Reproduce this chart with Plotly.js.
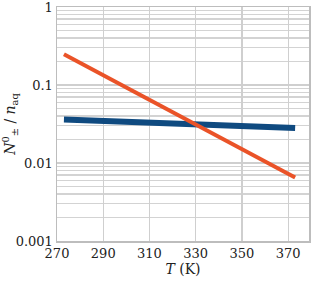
<!DOCTYPE html>
<html><head><meta charset="utf-8">
<script src="https://cdn.plot.ly/plotly-3.0.1.min.js"></script>
<style>html,body{margin:0;padding:0;background:#fff}#c{width:312px;height:282px}</style>
</head><body><div id="c"></div>
<script>
const T = [273, 373];
const orangeVals = [0.248, 0.0065];
const blueVals = [0.036, 0.028];
const xTicks = [270, 290, 310, 330, 350, 370];
const yMajor = [0.001, 0.01, 0.1, 1];
const yMajorLabels = ['0.001', '0.01', '0.1', '1'];

const font = {family: 'DejaVu Serif', size: 13, color: '#222'};
const titleFont = {family: 'DejaVu Serif', size: 14, color: '#222'};
const data = [
  {x: T, y: blueVals, mode: 'lines', line: {color: '#0f4a80', width: 6}, hoverinfo: 'none'},
  {x: T, y: orangeVals, mode: 'lines', line: {color: '#ea5328', width: 4}, hoverinfo: 'none'}
];
const layout = {
  width: 312, height: 282,
  margin: {l: 57, r: 3, t: 7, b: 41},
  paper_bgcolor: '#fff', plot_bgcolor: '#fff',
  showlegend: false,
  font: font,
  xaxis: {
    range: [270, 379], tickvals: xTicks, ticks: '', showgrid: true,
    gridcolor: '#cfcfcf', gridwidth: 1.2, linecolor: '#bdbdbd', linewidth: 1.5, mirror: true, showline: true,
    zeroline: false, tickfont: font, ticklabeloverflow: 'allow',
    title: {text: '<i>T</i> (K)', font: titleFont, standoff: 0}
  },
  yaxis: {
    type: 'log', range: [-3, 0], tickvals: yMajor, ticktext: yMajorLabels, ticks: '',
    showgrid: true, gridcolor: '#cfcfcf', gridwidth: 1.2, linecolor: '#bdbdbd', linewidth: 1.5,
    mirror: true, showline: true, zeroline: false, tickfont: font, ticklabeloverflow: 'allow',
    minor: {dtick: 'D1', showgrid: true, gridcolor: '#d3d3d3', gridwidth: 1.2, ticks: ''},
    title: {text: '<i>N</i><sup>0</sup><sub>±</sub> / <i>n</i><sub>aq</sub>', font: titleFont, standoff: 6}
  }
};
Plotly.newPlot('c', data, layout, {staticPlot: true, displayModeBar: false});
</script></body></html>
